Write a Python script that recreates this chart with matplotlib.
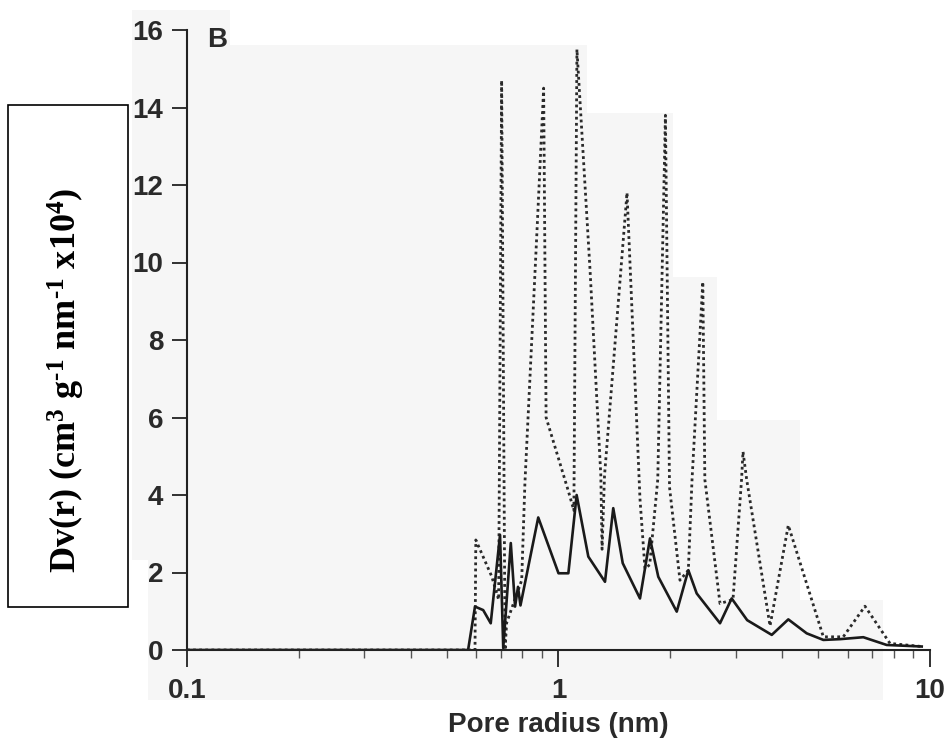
import matplotlib.pyplot as plt
from matplotlib.patches import Polygon, Rectangle

# pore radius (nm) and Dv(r) values
solid_r = [0.1, 0.571, 0.596, 0.627, 0.657, 0.696, 0.710, 0.744, 0.764, 0.778,
           0.790, 0.882, 1.0, 1.063, 1.119, 1.203, 1.334, 1.404, 1.489, 1.657,
           1.763, 1.856, 2.081, 2.236, 2.355, 2.721, 2.925, 3.22, 3.75, 4.155,
           4.657, 5.163, 5.725, 6.614, 7.645, 9.5]
solid_dv = [0, 0, 1.12, 1.03, 0.69, 2.97, 0.05, 2.76, 1.12, 1.63,
            1.15, 3.42, 1.98, 1.98, 4.0, 2.41, 1.76, 3.66, 2.24, 1.33,
            2.88, 1.89, 0.99, 2.06, 1.46, 0.69, 1.33, 0.77, 0.39, 0.79,
            0.43, 0.26, 0.28, 0.33, 0.13, 0.09]

dotted_r = [0.1, 0.596, 0.599, 0.661, 0.69, 0.703, 0.718, 0.725, 0.796, 0.812,
            0.875, 0.912, 0.926, 1.063, 1.10, 1.121, 1.216, 1.30, 1.31, 1.33,
            1.529, 1.657, 1.709, 1.76, 1.85, 1.94, 1.99, 2.123, 2.236, 2.288,
            2.446, 2.477, 2.721, 2.949, 3.11, 3.138, 3.21, 3.71, 4.155, 5.163,
            5.842, 6.683, 7.803, 9.5]
dotted_dv = [0, 0, 2.84, 1.9, 1.3, 14.7, 0.0, 0.7, 1.8, 4.3,
             10.8, 14.5, 6.0, 4.1, 3.6, 15.5, 9.8, 4.5, 2.6, 4.5,
             11.8, 3.9, 2.1, 2.2, 4.4, 13.8, 4.2, 1.8, 2.06, 4.4,
             9.5, 4.4, 1.2, 1.3, 4.4, 5.12, 4.4, 0.62, 3.22, 0.34,
             0.34, 1.13, 0.17, 0.09]

yticks = [0, 2, 4, 6, 8, 10, 12, 14, 16]
xticks = [0.1, 1, 10]
xtick_labels = ['0.1', '1', '10']

plt.rcParams['mathtext.fontset'] = 'custom'
plt.rcParams['mathtext.rm'] = 'Liberation Serif:bold'
plt.rcParams['mathtext.default'] = 'rm'

W, H = 945, 751
fig = plt.figure(figsize=(W / 100, H / 100), dpi=100)

# faint grey of the scanned page behind the plot
page = [(132, 10), (230, 10), (230, 45), (587, 45), (587, 113), (673, 113),
        (673, 277), (717, 277), (717, 420), (800, 420), (800, 600), (883, 600),
        (883, 700), (148, 700), (148, 560), (132, 560)]
fig.add_artist(Polygon([(x / W, 1 - y / H) for x, y in page], closed=True,
                       transform=fig.transFigure, fc='#f6f6f6', ec='none', zorder=0))

ax = fig.add_axes([187 / W, 1 - 650 / H, 743 / W, 620 / H])
ax.patch.set_alpha(0)

ax.plot(dotted_r, dotted_dv, color='#2a2a2a', lw=2.0, linestyle=(0, (1, 1.2)))
ax.plot(solid_r, solid_dv, color='#1a1a1a', lw=1.9)

ax.set_xscale('log')
ax.set_xlim(0.1, 10)
ax.set_ylim(0, 16)
ax.set_yticks(yticks)
ax.set_xticks(xticks)
ax.set_xticklabels(xtick_labels)

for s in ['top', 'right']:
    ax.spines[s].set_visible(False)
for s in ['left', 'bottom']:
    ax.spines[s].set_linewidth(1.5)
    ax.spines[s].set_color('#222222')

ax.tick_params(axis='y', length=11, width=1.3, pad=6, color='#222222')
ax.tick_params(axis='x', which='major', length=12, width=1.3, pad=8, color='#222222')
ax.tick_params(axis='x', which='minor', length=6, width=1.0, color='#555555')
for lab in ax.get_xticklabels() + ax.get_yticklabels():
    lab.set_fontfamily('Liberation Sans')
    lab.set_fontweight('bold')
    lab.set_fontsize(20)
    lab.set_color('#2a2a2a')

ax.set_xlabel('Pore radius (nm)', fontfamily='Liberation Sans', fontweight='bold',
              fontsize=20, color='#2a2a2a', labelpad=6)

fig.text(217 / W, 1 - 40 / H, 'B', fontfamily='Liberation Sans', fontweight='bold',
         fontsize=20, color='#2a2a2a', ha='center', va='center')

# boxed y label
fig.add_artist(Rectangle((8 / W, 1 - 607 / H), 120 / W, 502 / H, transform=fig.transFigure,
                         fc='white', ec='black', lw=1.2, zorder=2))
fig.text(66 / W, 1 - 380 / H, 'Dv(r) (cm$^{3}$ g$^{\u2010 1}$ nm$^{\u2010 1}$ x10$^{4}$)',
         rotation=90, ha='center', va='center', fontfamily='Liberation Serif',
         fontweight='bold', fontsize=26, zorder=3)

fig.savefig('out.png', dpi=100)
